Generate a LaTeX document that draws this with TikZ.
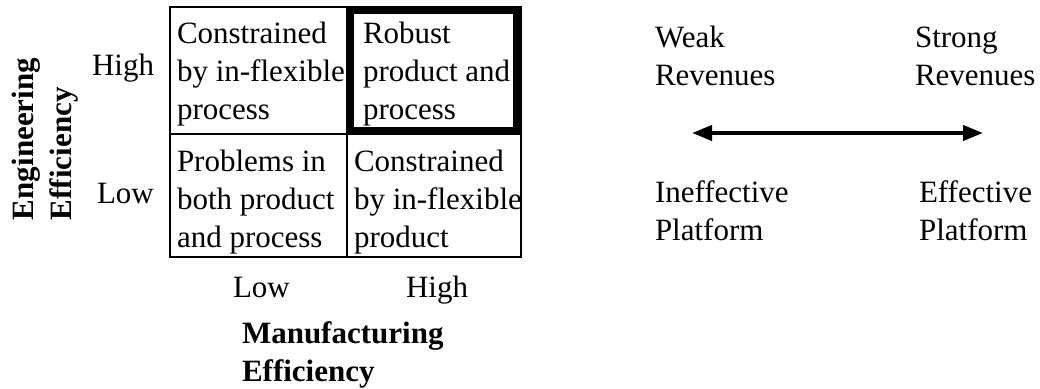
\documentclass[tikz,border=0pt]{standalone}
\usepackage{fontspec}
\setmainfont{Liberation Serif}
\usetikzlibrary{arrows.meta}
\begin{document}
\begin{tikzpicture}[x=1pt,y=-1pt,
  txt/.style={inner sep=0pt,outer sep=0pt,align=left,anchor=base west,font=\fontsize{31}{38}\selectfont},
  btxt/.style={txt,font=\fontsize{31}{38}\selectfont\bfseries},
  thin/.style={line width=2pt},
  thick box/.style={line width=6.5pt},
  dblarrow/.style={line width=4pt,{Triangle[length=20pt,width=15pt]}-{Triangle[length=20pt,width=15pt]}}]
\useasboundingbox (0,0) rectangle (1040,388);
% grid
\draw[thin] (170,7) rectangle (521,257);
\draw[thin] (347,7) -- (347,257);
\draw[thin] (170,134) -- (521,134);
\draw[thick box] (350.5,10.5) rectangle (516.5,130.5);
% axis labels (anchor base = baseline of the last line)
\node[btxt,rotate=90,anchor=north west] (yl) at (12,220) {Engineering\\Efficiency};
\node[txt] (yh) at (92,75) {High};
\node[txt] (ylo) at (97,203) {Low};
\node[txt] (xlo) at (233,297) {Low};
\node[txt] (xh) at (406,297) {High};
\node[btxt] (xl) at (242,381) {Manufacturing\\Efficiency};
% cells
\node[txt] (c11) at (177,119) {Constrained\\by in-flexible\\process};
\node[txt] (c12) at (363,119) {Robust\\product and\\process};
\node[txt] (c21) at (177,247) {Problems in\\both product\\and process};
\node[txt] (c22) at (354,247) {Constrained\\by in-flexible\\product};
% right side
\node[txt] (weak) at (655,85) {Weak\\Revenues};
\node[txt] (strong) at (915,85) {Strong\\Revenues};
\node[txt] (ineff) at (655,240) {Ineffective\\Platform};
\node[txt] (eff) at (919,240) {Effective\\Platform};
\coordinate (al) at (692,133);
\coordinate (ar) at (983,133);
\draw[dblarrow] (al) -- (ar);
\end{tikzpicture}
\end{document}
